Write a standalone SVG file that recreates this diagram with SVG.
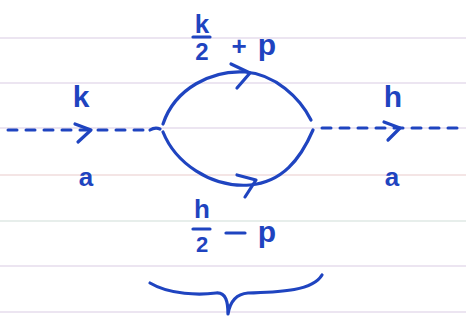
<svg xmlns="http://www.w3.org/2000/svg" width="466" height="321" viewBox="0 0 466 321">
<style>
.rule{stroke:#e6dcec;stroke-width:1.5}
.ink{fill:none;stroke:#1f44c0;stroke-width:3.2;stroke-linecap:round;stroke-linejoin:round}
.dash{fill:none;stroke:#1f44c0;stroke-width:3;stroke-dasharray:9 9;stroke-linecap:round}
.t{font-family:"Liberation Sans",Arial,sans-serif;fill:#1f44c0;font-weight:bold}
</style>
<rect width="466" height="321" fill="#ffffff"/>
<g id="paper">
<line class="rule" x1="0" y1="38" x2="466" y2="38" stroke="#f0dcdc"/>
<line class="rule" x1="0" y1="83" x2="466" y2="83"/>
<line class="rule" x1="0" y1="128" x2="466" y2="128"/>
<line class="rule" x1="0" y1="175" x2="466" y2="175" style="stroke:#f0dcdc"/>
<line class="rule" x1="0" y1="221" x2="466" y2="221" style="stroke:#dfe8e4"/>
<line class="rule" x1="0" y1="266" x2="466" y2="266"/>
<line class="rule" x1="0" y1="312" x2="466" y2="312"/>
</g>
<g id="connectors">
<line class="dash" x1="8" y1="130" x2="150" y2="130"/>
<path class="ink" d="M150,130 Q155,127 160,129"/>
<path class="ink" d="M75,124 L91,130 L78,142"/>
<line class="dash" x1="322" y1="128" x2="462" y2="128"/>
<path class="ink" d="M384,122 L400,128 L388,140"/>
<path class="ink" d="M163,124 C 175,88 212,70 245,72 C 275,74 300,98 311,120"/>
<path class="ink" d="M231,64 L250,73 L237,88"/>
<path class="ink" d="M163,132 C 175,162 210,188 250,185 C 282,182 300,160 313,130"/>
<path class="ink" d="M237,175 L256,180 L245,197"/>
<path class="ink" d="M150,283 C 170,295 200,295 216,293 C 226,292 228,302 228,314 C 230,302 236,294 248,293 C 275,292 312,292 322,275"/>
</g>
<g id="left-label">
<text class="t" x="81" y="107" font-size="30" text-anchor="middle">k</text>
<text class="t" x="86" y="186" font-size="26" text-anchor="middle">a</text>
</g>
<g id="right-label">
<text class="t" x="393" y="107" font-size="30" text-anchor="middle">h</text>
<text class="t" x="392" y="186" font-size="26" text-anchor="middle">a</text>
</g>
<g id="top-label">
<text class="t" x="202" y="33" font-size="26" text-anchor="middle">k</text>
<line class="ink" x1="193" y1="37" x2="210" y2="37"/>
<text class="t" x="202" y="60" font-size="24" text-anchor="middle">2</text>
<text class="t" x="239" y="55" font-size="26" text-anchor="middle">+</text>
<text class="t" x="267" y="55" font-size="30" text-anchor="middle">p</text>
</g>
<g id="bottom-label">
<text class="t" x="202" y="218" font-size="26" text-anchor="middle">h</text>
<line class="ink" x1="193" y1="229" x2="210" y2="229"/>
<text class="t" x="202" y="252" font-size="22" text-anchor="middle">2</text>
<line class="ink" x1="226" y1="233" x2="245" y2="233"/>
<text class="t" x="267" y="242" font-size="30" text-anchor="middle">p</text>
</g>
</svg>
